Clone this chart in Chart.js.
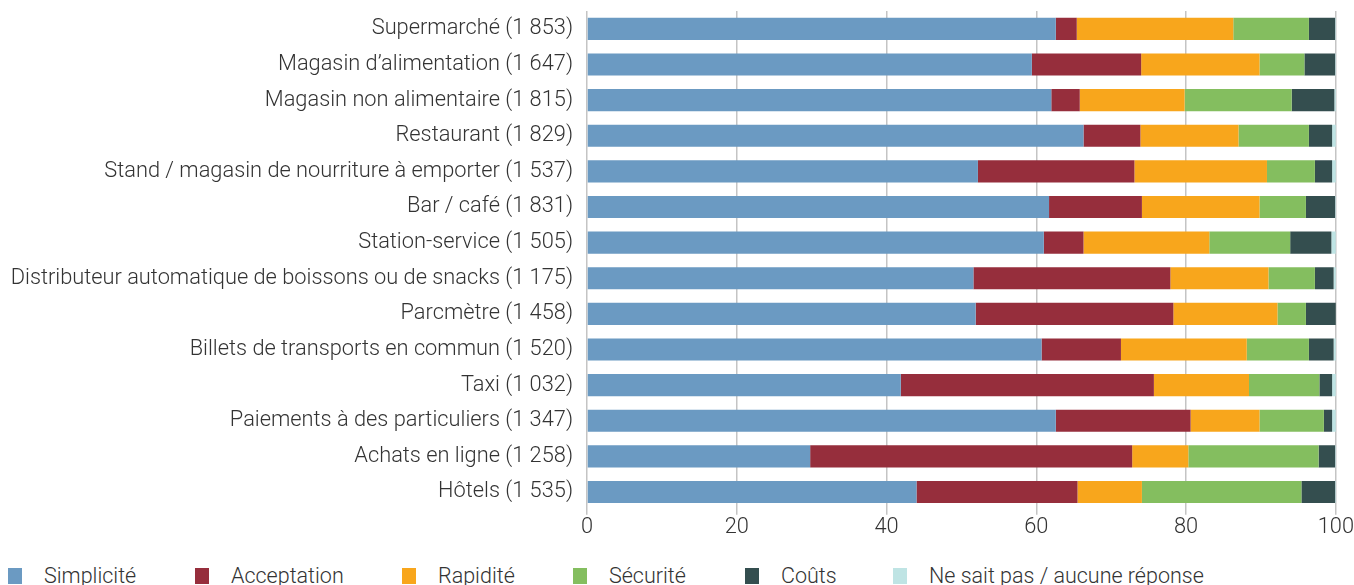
<!DOCTYPE html>
<html lang="fr">
<head>
<meta charset="utf-8">
<title>Raisons du choix du moyen de paiement</title>
<script src="https://cdn.jsdelivr.net/npm/chart.js@4.4.1/dist/chart.umd.min.js"></script>
<style>
  html, body { margin: 0; padding: 0; background: #fff; }
  #wrap { position: relative; width: 1354px; height: 585px; overflow: hidden; }
  #chart { position: absolute; left: 0; top: -2px; }
  #legend {
    position: absolute; left: 0; top: 563px; width: 1354px; height: 26px;
    font-family: "Roboto", "Liberation Sans", sans-serif;
    font-weight: 300; font-size: 21.5px; line-height: 26px; color: #333;
  }
  .item { position: absolute; top: 0; display: flex; align-items: center; white-space: nowrap; }
  .box { width: 14px; height: 16px; margin-right: 22px; }
</style>
</head>
<body>
<div id="wrap">
  <canvas id="chart" width="1354" height="547"></canvas>
  <div id="legend"></div>
</div>
<script>
// ─── Data ─────────────────────────────────────────────────────────────────────

const categories = [
  "Supermarché (1 853)",
  "Magasin d’alimentation (1 647)",
  "Magasin non alimentaire (1 815)",
  "Restaurant (1 829)",
  "Stand / magasin de nourriture à emporter (1 537)",
  "Bar / café (1 831)",
  "Station-service (1 505)",
  "Distributeur automatique de boissons ou de snacks (1 175)",
  "Parcmètre (1 458)",
  "Billets de transports en commun (1 520)",
  "Taxi (1 032)",
  "Paiements à des particuliers (1 347)",
  "Achats en ligne (1 258)",
  "Hôtels (1 535)",
];

const simplicite  = [62.6, 59.4, 62.0, 66.3, 52.2, 61.7, 61.0, 51.6, 51.9, 60.7, 41.9, 62.6, 29.8, 44.0];
const acceptation = [ 2.8, 14.6,  3.8,  7.6, 20.9, 12.4,  5.3, 26.3, 26.4, 10.6, 33.8, 18.0, 43.0, 21.5];
const rapidite    = [20.9, 15.8, 14.0, 13.1, 17.7, 15.7, 16.8, 13.1, 13.9, 16.8, 12.7,  9.2,  7.5,  8.6];
const securite    = [10.1,  6.0, 14.3,  9.4,  6.4,  6.2, 10.8,  6.2,  3.8,  8.3,  9.4,  8.6, 17.4, 21.3];
const couts       = [ 3.5,  4.1,  5.7,  3.1,  2.3,  3.9,  5.5,  2.5,  4.0,  3.3,  1.7,  1.1,  2.2,  4.5];
const nsp         = [ 0.1,  0.1,  0.2,  0.5,  0.5,  0.1,  0.6,  0.3,  0.0,  0.3,  0.5,  0.5,  0.1,  0.1];

const seriesLabels = ["Simplicité", "Acceptation", "Rapidité", "Sécurité", "Coûts", "Ne sait pas / aucune réponse"];
const seriesColors = ["#6b9ac2", "#962e3c", "#f8a61c", "#84be5f", "#344e4f", "#bfe4e4"];

const xTicks = [0, 20, 40, 60, 80, 100];

// ─── Chart ────────────────────────────────────────────────────────────────────

const FONT = { family: "Roboto, 'Liberation Sans', sans-serif", size: 21.8, weight: 300 };
const TEXT = "#333333";
const GRID = "#c4c4c4";

const seriesData = [simplicite, acceptation, rapidite, securite, couts, nsp];

const datasets = seriesData.map((data, i) => ({
  label: seriesLabels[i],
  data,
  backgroundColor: seriesColors[i],
  borderWidth: 0,
  barPercentage: 0.62,
  categoryPercentage: 1,
}));

new Chart(document.getElementById("chart"), {
  type: "bar",
  data: { labels: categories, datasets },
  options: {
    indexAxis: "y",
    responsive: false,
    animation: false,
    layout: { padding: { top: 0, right: 18, bottom: 4, left: 0 } },
    plugins: { legend: { display: false }, tooltip: { enabled: false } },
    scales: {
      x: {
        stacked: true,
        min: 0,
        max: 100,
        afterBuildTicks: (scale) => { scale.ticks = xTicks.map((v) => ({ value: v })); },
        ticks: { color: TEXT, font: FONT, padding: 0 },
        grid: { color: GRID, lineWidth: 1.5, tickLength: 5, drawTicks: true },
        border: { display: false },
      },
      y: {
        stacked: true,
        afterFit: (scale) => { scale.width = 587; },
        ticks: { color: TEXT, font: FONT, padding: 0, autoSkip: false },
        // invisible tick marks give the 14px gap without inflating top padding
        grid: { color: "rgba(0,0,0,0)", drawOnChartArea: false, drawTicks: true, tickLength: 14 },
        border: { display: false },
      },
    },
  },
});

// ─── Legend ───────────────────────────────────────────────────────────────────

const legendX = [8, 195, 402, 573, 745, 893];
const legend = document.getElementById("legend");
seriesLabels.forEach((label, i) => {
  const item = document.createElement("div");
  item.className = "item";
  item.style.left = legendX[i] + "px";
  item.innerHTML = `<span class="box" style="background:${seriesColors[i]}"></span><span>${label}</span>`;
  legend.appendChild(item);
});
</script>
</body>
</html>
